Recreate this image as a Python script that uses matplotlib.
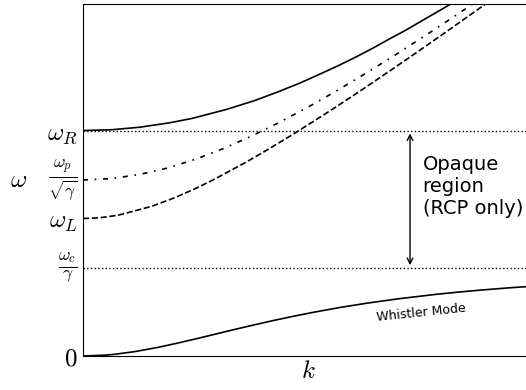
import numpy as np
import matplotlib
matplotlib.use('Agg')
import matplotlib.pyplot as plt

plt.rcParams['mathtext.fontset'] = 'cm'

# cutoff / resonance levels (units of omega_c/gamma)
w_c = 1.0
w_L = 1.562
w_p = 2.0
w_R = 2.562

# RCP upper branch
k_R = [0, 0.25, 0.5, 0.77, 0.97, 1.27, 1.52, 1.73, 1.925, 2.10, 2.27, 2.43, 2.579,
       2.72, 2.865, 3.00, 3.135, 3.27, 3.394, 3.52]
om_R = [2.562, 2.571, 2.599, 2.65, 2.7, 2.8, 2.9, 3.0, 3.1, 3.2, 3.3, 3.4, 3.5,
        3.6, 3.7, 3.8, 3.9, 4.0, 4.1, 4.2]

# unmagnetised light wave
k_p = [0, 0.25, 0.5, 0.75, 1.0, 1.25, 1.5, 1.75, 2.0, 2.25, 2.5, 2.75, 3.0, 3.25,
       3.5, 3.75, 4.0]
om_p = [2.0, 2.016, 2.062, 2.136, 2.236, 2.358, 2.5, 2.658, 2.828, 3.010, 3.202,
        3.400, 3.606, 3.816, 4.031, 4.25, 4.472]

# LCP branch
k_L = [0, 0.15, 0.314, 0.609, 0.818, 0.995, 1.155, 1.446, 1.648, 1.842, 2.029,
       2.212, 2.391, 2.566, 2.739, 2.910, 3.079, 3.247, 3.413, 3.578, 3.742, 3.904]
om_L = [1.562, 1.571, 1.6, 1.7, 1.8, 1.9, 2.0, 2.2, 2.35, 2.5, 2.65,
        2.8, 2.95, 3.1, 3.25, 3.4, 3.55, 3.7, 3.85, 4.0, 4.15, 4.3]

# whistler branch
k_W = [0, 0.201, 0.286, 0.461, 0.674, 0.853, 1.020, 1.181, 1.343, 1.509, 1.681,
       1.864, 2.062, 2.278, 2.522, 2.802, 3.134, 3.327, 3.544, 3.792, 4.079]
om_W = [0, 0.01, 0.02, 0.05, 0.1, 0.15, 0.2, 0.25, 0.3, 0.35, 0.4,
        0.45, 0.5, 0.55, 0.6, 0.65, 0.7, 0.725, 0.75, 0.775, 0.8]

tick_pos = [0, w_c, w_L, w_p, w_R]
tick_lab = [r'$0$', r'$\frac{\omega_c}{\gamma}$', r'$\omega_L$',
            r'$\frac{\omega_p}{\sqrt{\gamma}}$', r'$\omega_R$']

fig = plt.figure(figsize=(5.26, 3.9), dpi=100)
ax = fig.add_axes([83/526, 34/390, 450/526, 352/390])

ax.plot(k_R, om_R, 'k-', lw=1.2)
ax.plot(k_p, om_p, color='k', lw=1.2, dashes=(3, 4, 1, 4))
ax.plot(k_L, om_L, 'k--', lw=1.2)
ax.plot(k_W, om_W, 'k-', lw=1.2)

ax.axhline(w_R, color='k', ls=':', lw=1.0)
ax.axhline(w_c, color='k', ls=':', lw=1.0)

ax.annotate('', xy=(2.907, w_R), xytext=(2.907, w_c),
            arrowprops=dict(arrowstyle='<->', color='k', lw=1.0))
ax.text(3.02, 1.93, 'Opaque\nregion\n(RCP only)', fontsize=14, va='center', ha='left')
ax.text(3.01, 0.49, 'Whistler Mode', fontsize=9, rotation=6, ha='center', va='center')

ax.set_xlim(0, 4)
ax.set_ylim(0, 4)
ax.set_xticks([])
ax.set_yticks(tick_pos)
ax.set_yticklabels(tick_lab, fontsize=18)
ax.tick_params(axis='y', length=0, pad=4)
# fractions are centred on their bar
for lab in ax.get_yticklabels():
    if 'frac' in lab.get_text():
        lab.set_va('center')
ax.set_xlabel(r'$k$', fontsize=18, labelpad=2)
ax.set_ylabel(r'$\omega$', fontsize=18, rotation=0, labelpad=20, va='center')

plt.savefig('out.png', dpi=100)
